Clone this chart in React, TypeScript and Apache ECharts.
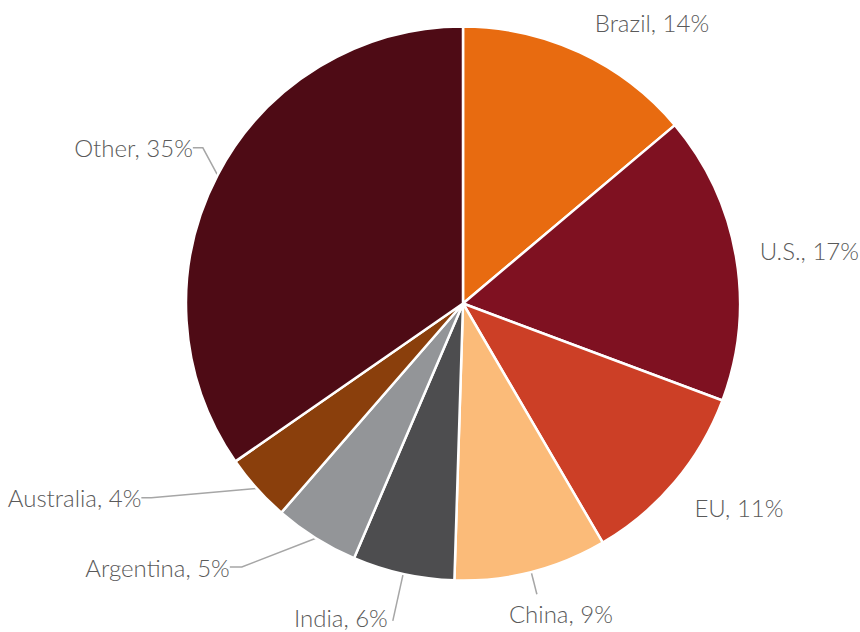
import React, { useEffect, useRef } from "react";
import * as echarts from "echarts";

// ---- data ----
const categories = ["Brazil", "U.S.", "EU", "China", "India", "Argentina", "Australia", "Other"];
const shares = [14, 17, 11, 9, 6, 5, 4, 35];

// ---- styling ----
const sliceColors = ["#E86B10", "#7F1121", "#CC3F26", "#FBBB79", "#4D4D4F", "#939598", "#8A3F0C", "#4E0B15"];

// label placement relative to ECharts' own outside-label layout
// keep: keep ECharts' radial leader line; otherwise it is re-routed to the moved label
const labelPlacement = [
  { len: 33, len2: 0, line: false, keep: false, sx: -4, sy: 0 },
  { len: 19, len2: 0, line: false, keep: false, sx: 0, sy: -3 },
  { len: 36, len2: 0, line: false, keep: false, sx: -13, sy: 2 },
  { len: 23, len2: 0, line: true, keep: true, sx: -33, sy: 19 },
  { len: 48, len2: 0, line: true, keep: true, sx: 0, sy: -3 },
  { len: 34, len2: 12, line: true, keep: false, sx: -51, sy: 0 },
  { len: 14, len2: 10, line: true, keep: false, sx: -90, sy: 0 },
  { len: 20, len2: 10, line: true, keep: false, sx: 8, sy: -18 },
];

export default function App() {
  const ref = useRef<HTMLDivElement>(null);

  useEffect(() => {
    if (!ref.current) return;
    const chart = echarts.init(ref.current, undefined, { renderer: "svg" });
    const data = categories.map((name, i) => ({
      name,
      value: shares[i],
      itemStyle: { color: sliceColors[i] },
      labelLine: {
        show: labelPlacement[i].line,
        length: labelPlacement[i].len,
        length2: labelPlacement[i].len2,
      },
    }));
    chart.setOption({
      animation: false,
      backgroundColor: "#ffffff",
      series: [
        {
          type: "pie",
          center: [463, 303.5],
          radius: 277,
          startAngle: 90,
          clockwise: true,
          avoidLabelOverlap: false,
          silent: true,
          data,
          itemStyle: { borderColor: "#ffffff", borderWidth: 2.5 },
          label: {
            show: true,
            position: "outside",
            formatter: (p: any) => `${p.name}, ${p.value}%`,
            fontFamily: "Lato",
            fontWeight: 300,
            fontSize: 24,
            color: "#5A5A5A",
          },
          labelLine: {
            lineStyle: { color: "#A6A6A6", width: 1.5 },
          },
          labelLayout: (params: any) => {
            const p = labelPlacement[params.dataIndex];
            const r = params.labelRect;
            const out: any = {
              x: r.x + p.sx,
              y: r.y + p.sy,
              align: "left",
              verticalAlign: "top",
            };
            if (p.keep && params.labelLinePoints) {
              out.labelLinePoints = params.labelLinePoints;
            }
            return out;
          },
        },
      ],
    });
    return () => chart.dispose();
  }, []);

  return (
    <div
      ref={ref}
      style={{ position: "fixed", left: 0, top: 0, width: 860, height: 632, background: "#fff" }}
    />
  );
}
